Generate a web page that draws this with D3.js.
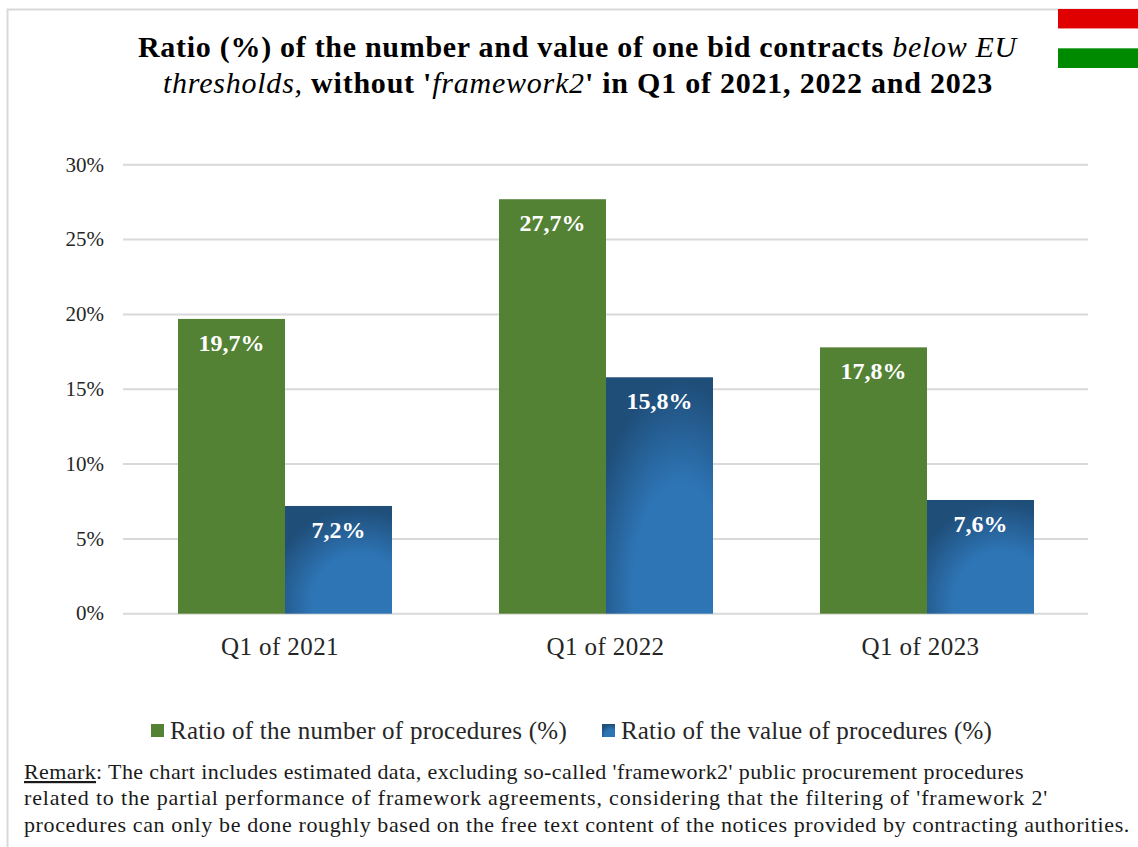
<!DOCTYPE html>
<html><head><meta charset="utf-8">
<script src="https://cdn.jsdelivr.net/npm/d3@7"></script>
<style>
html,body{margin:0;padding:0;background:#fff;overflow:hidden}
svg{display:block}
text{font-family:"Liberation Serif",serif;fill:#262626}
.axis path,.axis line{display:none}
</style></head><body>
<svg id="c" width="1138" height="847"></svg>
<script>
const categories = ["Q1 of 2021","Q1 of 2022","Q1 of 2023"];
const seriesNames = ["Ratio of the number of procedures (%)","Ratio of the value of procedures (%)"];
const numberRatio = [19.7,27.7,17.8];
const valueRatio = [7.2,15.8,7.6];
const yTicks = [0,5,10,15,20,25,30];
const flagColors = ["#e00000","#ffffff","#008a00"];
const categoryLabelShift = [-5,-0.5,-6.5];
const remarkLines = [
 "The chart includes estimated data, excluding so-called 'framework2' public procurement procedures",
 "related to the partial performance of framework agreements, considering that the filtering of 'framework 2'",
 "procedures can only be done roughly based on the free text content of the notices provided by contracting authorities."
];

const svg = d3.select("#c");
const fit = (sel,w)=>{const n=sel.node();const l=n.getComputedTextLength();const c=n.getNumberOfChars();
  sel.style("letter-spacing",((w-l)/c)+"px");return sel;};
const comma = v => v.toFixed(1).replace(".",",")+"%";

// gradient
const defs = svg.append("defs");
const g = defs.append("radialGradient").attr("id","blue").attr("cx",0.7).attr("cy",0.9).attr("r",1);
g.append("stop").attr("offset",0.45).attr("stop-color","#2e75b6");
g.append("stop").attr("offset",0.88).attr("stop-color","#1f4e79");

// frame
svg.append("path").attr("d","M7.5 847V9.5H1138").attr("fill","none").attr("stroke","#d9d9d9").attr("stroke-width",2);

// flag
const flagY = d3.scaleBand().domain(flagColors).range([9,68]);
svg.selectAll(".flag").data(flagColors).join("rect").attr("x",1058).attr("width",80)
  .attr("y",d=>flagY(d)).attr("height",flagY.bandwidth()).attr("fill",d=>d);

// title
const t1 = svg.append("text").attr("x",138).attr("y",57).attr("font-size",30).attr("font-weight","bold").style("fill","#000");
t1.append("tspan").text("Ratio (%) of the number and value of one bid contracts ");
t1.append("tspan").attr("font-style","italic").attr("font-weight","normal").text("below EU");
fit(t1,879);
const t2 = svg.append("text").attr("x",163).attr("y",93).attr("font-size",30).attr("font-weight","bold").style("fill","#000");
t2.append("tspan").attr("font-style","italic").attr("font-weight","normal").text("thresholds,");
t2.append("tspan").text(" without '");
t2.append("tspan").attr("font-style","italic").attr("font-weight","normal").text("framework2");
t2.append("tspan").text("' in Q1 of 2021, 2022 and 2023");
fit(t2,830);

// scales
const x0 = d3.scaleBand().domain(categories).range([124.5,1087.5]).paddingInner(1/3).paddingOuter(1/6);
const x1 = d3.scaleBand().domain([0,1]).range([0,x0.bandwidth()]);
const y = d3.scaleLinear().domain([0,30]).range([613.7,164.8]);

// grid
svg.selectAll(".grid").data(yTicks).join("line").attr("x1",123).attr("x2",1088)
  .attr("y1",d=>y(d)).attr("y2",d=>y(d)).attr("stroke","#d9d9d9").attr("stroke-width",2);

// y axis
const ya = svg.append("g").attr("class","axis").attr("transform","translate(104,-0.5)")
  .call(d3.axisLeft(y).tickValues(yTicks).tickFormat(d=>d+"%").tickSize(0).tickPadding(0));
ya.selectAll("text").attr("font-size",21).style("font-family",'"Liberation Serif",serif');

// bars
const rows = categories.map((c,i)=>({c,i,vals:[numberRatio[i],valueRatio[i]]}));
const groups = svg.selectAll(".grp").data(rows).join("g").attr("transform",d=>`translate(${x0(d.c)},0)`);
groups.selectAll("rect").data(d=>d.vals.map((v,k)=>({v,k}))).join("rect")
  .attr("x",d=>x1(d.k)).attr("width",x1.bandwidth())
  .attr("y",d=>y(d.v)).attr("height",d=>y(0)-y(d.v))
  .attr("fill",d=>d.k===0?"#548235":"url(#blue)");
groups.selectAll("text").data(d=>d.vals.map((v,k)=>({v,k}))).join("text")
  .attr("x",d=>x1(d.k)+x1.bandwidth()/2).attr("y",d=>y(d.v)+32)
  .attr("text-anchor","middle").attr("font-size",24).attr("font-weight","bold")
  .style("fill","#fff").text(d=>comma(d.v));

// x axis
const xa = svg.append("g").attr("class","axis").attr("transform","translate(0,613.5)")
  .call(d3.axisBottom(x0).tickSize(0).tickPadding(0));
xa.selectAll("text").attr("font-size",25).attr("y",41).attr("dy",0).style("font-family",'"Liberation Serif",serif')
  .attr("dx",(d,i)=>categoryLabelShift[i]);
xa.selectAll("text").each(function(){fit(d3.select(this),118);});

// legend
const legendX = [151,602];
const legendW = [397,371];
const leg = svg.selectAll(".leg").data(seriesNames).join("g").attr("transform",(d,i)=>`translate(${legendX[i]},724)`);
leg.append("rect").attr("width",13).attr("height",13).attr("fill",(d,i)=>i===0?"#548235":"url(#blue)");
leg.append("text").attr("x",19).attr("y",15).attr("font-size",25).text(d=>d)
  .each(function(d,i){fit(d3.select(this),legendW[i]);});

// remark
const r0 = svg.append("text").attr("x",24).attr("y",779).attr("font-size",22).style("fill","#1a1a1a");
r0.append("tspan").attr("text-decoration","underline").text("Remark");
r0.append("tspan").text(": "+remarkLines[0]);
fit(r0,1000);
svg.append("text").attr("x",24).attr("y",805).attr("font-size",22).style("fill","#1a1a1a").text(remarkLines[1])
  .each(function(){fit(d3.select(this),1024);});
svg.append("text").attr("x",24).attr("y",832).attr("font-size",22).style("fill","#1a1a1a").text(remarkLines[2])
  .each(function(){fit(d3.select(this),1106);});
</script>
</body></html>
